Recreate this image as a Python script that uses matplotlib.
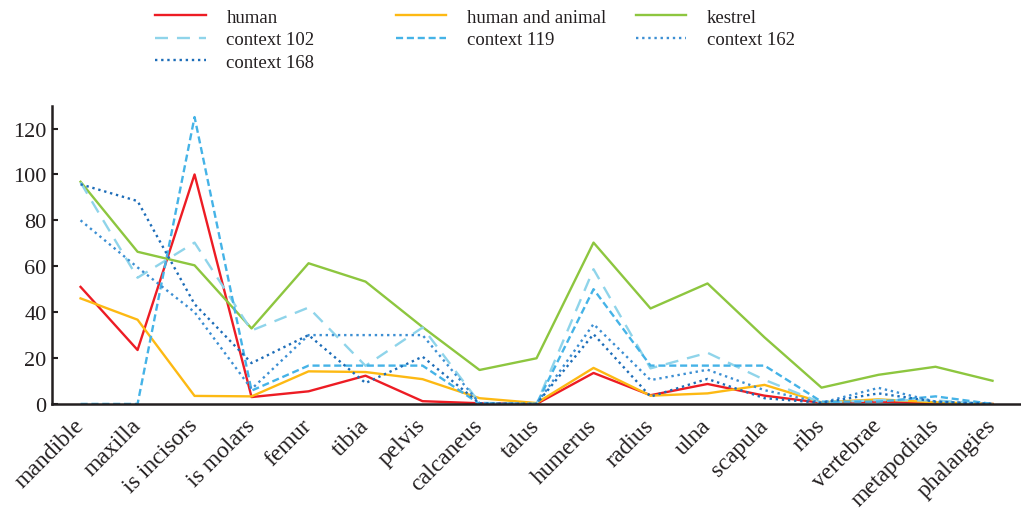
import matplotlib
matplotlib.use("Agg")
import matplotlib.pyplot as plt

plt.rcParams['font.family'] = ['Liberation Serif', 'DejaVu Serif']

categories = ['mandible', 'maxilla', 'is incisors', 'is molars', 'femur', 'tibia',
              'pelvis', 'calcaneus', 'talus', 'humerus', 'radius', 'ulna',
              'scapula', 'ribs', 'vertebrae', 'metapodials', 'phalangies']

human = [51, 23.5, 100, 3, 5.5, 12.3, 1.2, 0.3, 0, 13.5, 3.8, 8.7, 3.6, 0.5, 1, 0.3, 0]
human_animal = [46, 36.7, 3.5, 3.3, 14.2, 13.9, 10.8, 2.5, 0.4, 15.7, 3.6, 4.6, 8.3, 0.7, 2, 0.7, 0]
kestrel = [96.8, 66.3, 60.4, 32.9, 61.3, 53.3, 33.5, 14.8, 19.9, 70.3, 41.6, 52.5, 29, 7.1, 12.7, 16.2, 10.1]
context_102 = [96.5, 55, 70.3, 32, 42, 16.6, 33.3, 0.5, 0, 58.7, 15.5, 22.3, 10.5, 0.5, 1.7, 1.5, 0]
context_119 = [0, 0, 125, 5.8, 16.7, 16.7, 16.7, 0, 0, 50, 16.7, 16.7, 16.7, 1, 1, 3.3, 0]
context_162 = [80, 59.5, 40, 6.5, 30, 30, 30, 0.3, 0, 34.8, 10.4, 14.9, 6, 0.5, 7, 1, 0]
context_168 = [95.7, 88.4, 43.5, 17.8, 30, 9.1, 20.6, 0.3, 0, 30.4, 3.2, 10.9, 2.5, 0.5, 4.6, 1, 0]

y_ticks = [0, 20, 40, 60, 80, 100, 120]

fig = plt.figure(figsize=(10.21, 5.10), dpi=100)
ax = fig.add_axes([0.051, 0.206, 0.949, 0.585])

x = list(range(len(categories)))
lw = 1.7
series = [
    ('human', human, dict(color='#ED1C24', linestyle='-')),
    ('human and animal', human_animal, dict(color='#FDB913', linestyle='-')),
    ('kestrel', kestrel, dict(color='#8DC63F', linestyle='-')),
    ('context 102', context_102, dict(color='#8FD4EA', linestyle=(0, (5.5, 3.8)))),
    ('context 119', context_119, dict(color='#45B3E7', linestyle=(0, (3, 1.6)))),
    ('context 162', context_162, dict(color='#3C8FD3', linestyle=(0, (1, 1.6)))),
    ('context 168', context_168, dict(color='#1D6DB8', linestyle=(0, (1, 1.6)))),
]

handles = {}
for name, vals, style in series:
    ln, = ax.plot(x, vals, linewidth=lw, label=name, **style)
    handles[name] = ln

ax.set_xlim(-0.5, 16.5)
ax.set_ylim(0, 130)
ax.set_yticks(y_ticks)
ax.set_xticks(x)
ax.set_xticklabels(categories, rotation=45, ha='right', va='center',
                   rotation_mode='anchor', fontsize=17, color='#231F20')
ax.tick_params(axis='x', length=0, pad=13)
ax.tick_params(axis='y', direction='in', length=4, width=1.5, labelsize=16,
               colors='#231F20', pad=4)

for side in ('top', 'right'):
    ax.spines[side].set_visible(False)
for side in ('left', 'bottom'):
    ax.spines[side].set_color('#231F20')
    ax.spines[side].set_linewidth(1.8)

# legend laid out in three columns with even spacing
columns = [
    (['human', 'context 102', 'context 168'], 0.152),
    (['human and animal', 'context 119'], 0.3875),
    (['kestrel', 'context 162'], 0.6225),
]
for names, x0 in columns:
    leg = fig.legend([handles[n] for n in names], names, loc='upper left',
                     bbox_to_anchor=(x0, 0.981), frameon=False, fontsize=13.5,
                     handlelength=2.7, handletextpad=1.1, labelspacing=0.28,
                     borderpad=0.0, borderaxespad=0.0)
    for t in leg.get_texts():
        t.set_color('#231F20')

fig.savefig('out.png', dpi=100)
